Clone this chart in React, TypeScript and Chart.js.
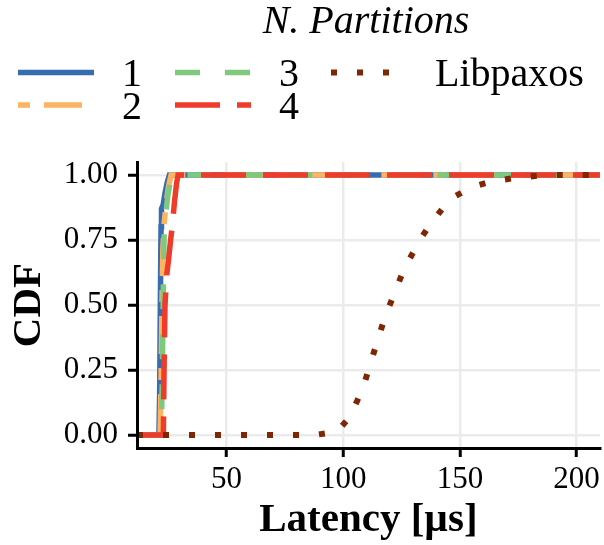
import React, { useEffect, useRef } from 'react';
import { Chart, registerables } from 'chart.js';

Chart.register(...registerables);

// ---- data ----
const X_MIN = 11.6;
const X_MAX = 210;
const Y_MIN = -0.05;
const Y_MAX = 1.05;
const xTicks = [50, 100, 150, 200];
const yTicks = [0, 0.25, 0.5, 0.75, 1];
const xTitle = 'Latency [µs]';
const yTitle = 'CDF';
const legendTitle = 'N. Partitions';
const seriesNames = ['1', '2', '3', '4', 'Libpaxos'];

const lat1 = [21.0, 21.3, 21.6, 21.9, 22.1, 22.8, 23.6, 24.5, 25.5];
const cdf1 = [0, 0.15, 0.5, 0.8, 0.87, 0.885, 0.93, 0.97, 1.0];
const lat2 = [21.5, 21.9, 22.3, 22.7, 23.3, 24.2, 25.2, 26.2];
const cdf2 = [0, 0.2, 0.5, 0.72, 0.82, 0.9, 0.96, 1.0];
const lat3 = [22.0, 22.4, 22.8, 23.2, 23.8, 24.8, 25.8, 26.8];
const cdf3 = [0, 0.2, 0.5, 0.76, 0.84, 0.92, 0.97, 1.0];
const lat4 = [22.9, 23.2, 23.6, 24.4, 25.2, 26.0, 26.7, 27.7, 28.6, 29.2];
const cdf4 = [0, 0.25, 0.5, 0.62, 0.68, 0.75, 0.8, 0.9, 0.97, 1.0];
const latLib = [87.8, 97.3, 102.4, 106.0, 109.1, 111.6, 114.1, 116.7, 119.5, 122.6, 125.8, 129.5, 133.3, 137.6, 142.3, 147.7, 155.0, 163.0, 172.2, 182.2, 192.5, 201.0];
const cdfLib = [0, 0.013, 0.064, 0.132, 0.2, 0.273, 0.346, 0.42, 0.49, 0.56, 0.632, 0.695, 0.757, 0.814, 0.868, 0.917, 0.953, 0.974, 0.987, 0.996, 1.0, 1.0];

// ---- styles ----
const colors = ['#386CB0', '#FDB462', '#7FC97F', '#EF3B2C', '#7F2704'];
const dashes = [[], [12, 14, 38, 14], [25, 25], [45, 17], [6, 20]];
const widths = [5.5, 5.5, 5.5, 5.5, 6];
const drawOrder = [4, 3, 2, 1, 0];
const FONT = '"Liberation Serif", "Times New Roman", serif';

const allLat = [lat1, lat2, lat3, lat4, latLib];
const allCdf = [cdf1, cdf2, cdf3, cdf4, cdfLib];

function ecdfPoints(lat: number[], cdf: number[]) {
  const pts = [{ x: X_MIN, y: 0 }];
  lat.forEach((v, i) => pts.push({ x: v, y: cdf[i] }));
  pts.push({ x: X_MAX, y: 1 });
  return pts;
}

const legendPlugin = {
  id: 'cdfLegend',
  afterDraw(chart: any) {
    const ctx: CanvasRenderingContext2D = chart.ctx;
    ctx.save();
    ctx.fillStyle = '#000';
    ctx.font = `italic 40px ${FONT}`;
    ctx.textAlign = 'center';
    ctx.textBaseline = 'alphabetic';
    ctx.fillText(legendTitle, 366, 33);

    const colX = [18, 175, 331];
    const rowY = [72.5, 105];
    const keyLen = 76;
    const textGap = 104;
    ctx.font = `40px ${FONT}`;
    ctx.textAlign = 'left';
    seriesNames.forEach((name, i) => {
      const c = Math.floor(i / 2);
      const r = i % 2;
      const x0 = colX[c];
      const y = rowY[r];
      ctx.save();
      ctx.beginPath();
      ctx.rect(x0, y - 10, keyLen, 20);
      ctx.clip();
      ctx.strokeStyle = colors[i];
      ctx.lineWidth = widths[i];
      ctx.lineCap = 'butt';
      ctx.setLineDash(dashes[i]);
      ctx.beginPath();
      ctx.moveTo(x0, y);
      ctx.lineTo(x0 + keyLen, y);
      ctx.stroke();
      ctx.restore();
      ctx.fillStyle = '#000';
      ctx.fillText(name, x0 + textGap, y + 13.5);
    });
    ctx.restore();
  },
};

export default function App() {
  const canvasRef = useRef<HTMLCanvasElement | null>(null);

  useEffect(() => {
    if (!canvasRef.current) return;
    const chart = new Chart(canvasRef.current, {
      type: 'line',
      data: {
        datasets: seriesNames.map((name, i) => ({
          label: name,
          data: ecdfPoints(allLat[i], allCdf[i]),
          borderColor: colors[i],
          backgroundColor: colors[i],
          borderWidth: widths[i],
          borderDash: dashes[i],
          borderCapStyle: 'butt',
          pointRadius: 0,
          fill: false,
          tension: 0,
          order: drawOrder[i],
        })),
      },
      options: {
        animation: false,
        responsive: false,
        devicePixelRatio: 1,
        layout: { padding: { top: 162, right: 4, left: 0, bottom: 0 } },
        plugins: { legend: { display: false }, tooltip: { enabled: false } },
        scales: {
          x: {
            type: 'linear',
            min: X_MIN,
            max: X_MAX,
            afterBuildTicks: (s: any) => {
              s.ticks = xTicks.map((v) => ({ value: v }));
            },
            afterFit: (s: any) => {
              s.height = 97;
            },
            grid: { color: '#EBEBEB', lineWidth: 2.5, tickColor: '#000', tickWidth: 3, tickLength: 9 },
            border: { color: '#000', width: 3, z: 1 },
            ticks: {
              color: '#000',
              font: { family: FONT, size: 31 },
              padding: 4,
              maxRotation: 0,
              autoSkip: false,
              callback: (v: any) => String(v),
            },
            title: {
              display: true,
              text: xTitle,
              color: '#000',
              font: { family: FONT, size: 41, weight: 'bold' },
              padding: { top: 0, bottom: 0 },
            },
          },
          y: {
            type: 'linear',
            min: Y_MIN,
            max: Y_MAX,
            afterBuildTicks: (s: any) => {
              s.ticks = yTicks.map((v) => ({ value: v }));
            },
            afterFit: (s: any) => {
              s.width = 137;
            },
            grid: { color: '#EBEBEB', lineWidth: 2.5, tickColor: '#000', tickWidth: 3, tickLength: 9 },
            border: { color: '#000', width: 3, z: 1 },
            ticks: {
              color: '#000',
              font: { family: FONT, size: 31 },
              padding: 10,
              autoSkip: false,
              callback: (v: any) => Number(v).toFixed(2),
            },
            title: {
              display: true,
              text: yTitle,
              color: '#000',
              font: { family: FONT, size: 41, weight: 'bold' },
              padding: { top: 5, bottom: 0 },
            },
          },
        },
      },
      plugins: [legendPlugin],
    } as any);
    return () => chart.destroy();
  }, []);

  return (
    <div style={{ position: 'absolute', left: 0, top: 0, width: 604, height: 545, background: '#fff' }}>
      <canvas ref={canvasRef} width={604} height={545} style={{ display: 'block' }} />
    </div>
  );
}
